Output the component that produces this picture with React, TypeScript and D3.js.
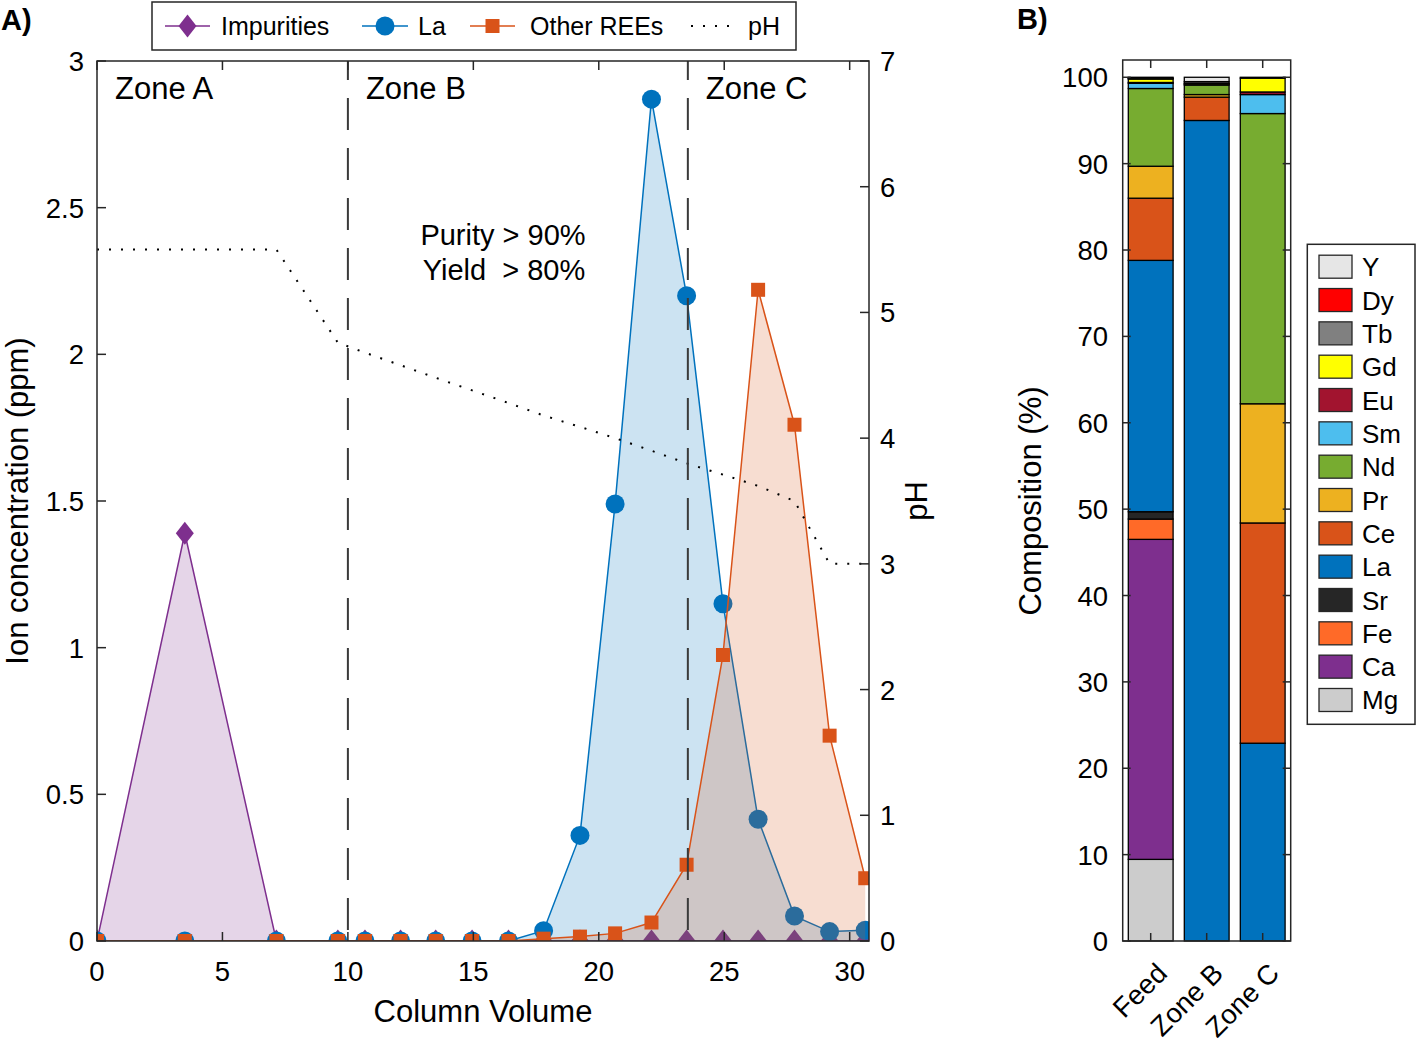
import { useEffect, useRef } from 'react'
import * as d3 from 'd3'

// ---- Panel A: elution profile ----
const columnVolume = [0, 3.5, 7.15, 9.6, 10.68, 12.1, 13.5, 14.95, 16.4, 17.8, 19.25, 20.65, 22.1, 23.5, 24.95, 26.35, 27.8, 29.2, 30.62]
const impurities = [0, 1.39, 0, 0, 0, 0, 0, 0, 0, 0, 0, 0, 0, 0, 0, 0, 0, 0, 0]
const lanthanum = [0, 0, 0, 0, 0, 0, 0, 0, 0, 0.035, 0.36, 1.49, 2.87, 2.2, 1.15, 0.415, 0.085, 0.032, 0.037]
const otherREEs = [0, 0, 0, 0, 0, 0, 0, 0, 0, 0.008, 0.015, 0.026, 0.063, 0.26, 0.975, 2.22, 1.76, 0.7, 0.214]
const phValues = [5.5, 5.5, 5.5, 4.76, 4.68, 4.58, 4.48, 4.38, 4.28, 4.18, 4.09, 4.0, 3.9, 3.8, 3.71, 3.62, 3.5, 3.0, 3.0]
const zoneStarts = [0, 10, 23.55]
const zoneNames = ['Zone A', 'Zone B', 'Zone C']
const concTicks = [0, 0.5, 1, 1.5, 2, 2.5, 3]
const phTicks = [0, 1, 2, 3, 4, 5, 6, 7]
const cvTicks = [0, 5, 10, 15, 20, 25, 30]

// ---- Panel B: composition ----
const samples = ['Feed', 'Zone B', 'Zone C']
const elements = ['Mg', 'Ca', 'Fe', 'Sr', 'La', 'Ce', 'Pr', 'Nd', 'Sm', 'Eu', 'Gd', 'Tb', 'Dy', 'Y']
const feedPct = [9.45, 37.05, 2.35, 0.85, 29.1, 7.2, 3.7, 9.0, 0.6, 0.1, 0.4, 0.05, 0.05, 0.1]
const zoneBPct = [0, 0, 0, 0, 95.0, 2.7, 0.3, 1.1, 0.1, 0, 0.1, 0.2, 0, 0.5]
const zoneCPct = [0, 0, 0, 0, 22.9, 25.5, 13.8, 33.6, 2.2, 0.3, 1.6, 0.1, 0, 0]
const elementColors = ['#cccccc', '#7e2f8e', '#ff6a28', '#262626', '#0072bd', '#d95319', '#edb120', '#77ac30', '#4dbeee', '#a2142f', '#ffff00', '#808080', '#ff0000', '#e6e6e6']
const pctTicks = [0, 10, 20, 30, 40, 50, 60, 70, 80, 90, 100]

type Sel = d3.Selection<SVGGElement, unknown, null, undefined>

function marker(g: Sel, kind: string, cx: number, cy: number, color: string) {
  if (kind === 'circle') {
    g.append('circle').attr('cx', cx).attr('cy', cy).attr('r', 9.5).attr('fill', color)
  } else if (kind === 'square') {
    g.append('rect').attr('x', cx - 7).attr('y', cy - 7).attr('width', 14).attr('height', 14).attr('fill', color)
  } else {
    g.append('path').attr('d', `M${cx},${cy - 11.5}L${cx + 9},${cy}L${cx},${cy + 11.5}L${cx - 9},${cy}Z`).attr('fill', color)
  }
}

export default function App() {
  const svgRef = useRef<SVGSVGElement>(null)

  useEffect(() => {
    if (!svgRef.current) return
    const svg = d3.select(svgRef.current)
    svg.selectAll('*').remove()

    const font = "'Liberation Sans', Arial, Helvetica, sans-serif"
    const ink = '#262626'
    const tickFs = 27.5

    svg.append('rect').attr('width', 1418).attr('height', 1042).attr('fill', '#fff')

    // ================= Panel A =================
    const x = d3.scaleLinear().domain([0, 30.77]).range([97, 869])
    const y = d3.scaleLinear().domain([0, 3]).range([941, 61])
    const yPH = d3.scaleLinear().domain([0, 7]).range([941, 61])
    const [xl, xr] = x.range()
    const [yb, yt] = y.range()

    // everything inside the axes is clipped to the axes box
    svg.append('defs').append('clipPath').attr('id', 'clip-a')
      .append('rect').attr('x', xl).attr('y', yt).attr('width', xr - xl).attr('height', yb - yt)

    const gA = svg.append('g') as unknown as Sel
    const plot = gA.append('g').attr('clip-path', 'url(#clip-a)') as unknown as Sel

    const series = [
      { name: 'Impurities', values: impurities, color: '#7e2f8e', kind: 'diamond' },
      { name: 'La', values: lanthanum, color: '#0072bd', kind: 'circle' },
      { name: 'Other REEs', values: otherREEs, color: '#d95319', kind: 'square' },
    ]

    const area = d3.area<number>()
      .x((_d, i) => x(columnVolume[i]))
      .y0(y(0))
      .y1(d => y(d))
    const line = d3.line<number>()
      .x((_d, i) => x(columnVolume[i]))
      .y(d => y(d))

    series.forEach(s => {
      plot.append('path').datum(s.values).attr('d', area)
        .attr('fill', s.color).attr('fill-opacity', 0.2)
      plot.append('path').datum(s.values).attr('d', line)
        .attr('fill', 'none').attr('stroke', s.color).attr('stroke-width', 1.5)
      s.values.forEach((v, i) => marker(plot, s.kind, x(columnVolume[i]), y(v), s.color))
    })

    // pH (right axis)
    const phLine = d3.line<number>()
      .x((_d, i) => x(columnVolume[i]))
      .y(d => yPH(d))
    plot.append('path').datum(phValues).attr('d', phLine)
      .attr('fill', 'none').attr('stroke', '#000').attr('stroke-width', 2)
      .attr('stroke-dasharray', '2 10')

    // zone boundaries
    zoneStarts.slice(1).forEach(z => {
      gA.append('line')
        .attr('x1', x(z)).attr('x2', x(z)).attr('y1', y(3)).attr('y2', y(0))
        .attr('stroke', '#3a3a3a').attr('stroke-width', 2)
        .attr('stroke-dasharray', '32 18').attr('stroke-dashoffset', 13)
    })

    // zone labels
    zoneNames.forEach((name, i) => {
      gA.append('text')
        .attr('x', x(zoneStarts[i]) + 18).attr('y', 99)
        .attr('font-family', font).attr('font-size', 31).attr('fill', '#000')
        .text(name)
    })

    // purity / yield annotation
    const ann = gA.append('text')
      .attr('font-family', font).attr('font-size', 29).attr('fill', '#000')
      .attr('text-anchor', 'middle').style('white-space', 'pre')
    ann.append('tspan').attr('x', 503).attr('y', 245).text('Purity > 90%')
    ann.append('tspan').attr('x', 504).attr('y', 280).text('Yield  > 80%')

    // axes box
    gA.append('rect').attr('x', xl).attr('y', yt).attr('width', xr - xl).attr('height', yb - yt)
      .attr('fill', 'none').attr('stroke', ink).attr('stroke-width', 1.5)

    cvTicks.forEach(t => {
      gA.append('line').attr('x1', x(t)).attr('x2', x(t)).attr('y1', yb).attr('y2', yb - 9)
        .attr('stroke', ink).attr('stroke-width', 1.5)
      gA.append('line').attr('x1', x(t)).attr('x2', x(t)).attr('y1', yt).attr('y2', yt + 9)
        .attr('stroke', ink).attr('stroke-width', 1.5)
      gA.append('text').attr('x', x(t)).attr('y', 981)
        .attr('text-anchor', 'middle').attr('font-family', font).attr('font-size', tickFs)
        .text(String(t))
    })
    concTicks.forEach(t => {
      gA.append('line').attr('x1', xl).attr('x2', xl + 9).attr('y1', y(t)).attr('y2', y(t))
        .attr('stroke', ink).attr('stroke-width', 1.5)
      gA.append('text').attr('x', 84).attr('y', y(t) + 10)
        .attr('text-anchor', 'end').attr('font-family', font).attr('font-size', tickFs)
        .text(String(t))
    })
    phTicks.forEach(t => {
      gA.append('line').attr('x1', xr).attr('x2', xr - 9).attr('y1', yPH(t)).attr('y2', yPH(t))
        .attr('stroke', ink).attr('stroke-width', 1.5)
      gA.append('text').attr('x', 880).attr('y', yPH(t) + 10)
        .attr('text-anchor', 'start').attr('font-family', font).attr('font-size', tickFs)
        .text(String(t))
    })

    gA.append('text').attr('x', 483).attr('y', 1022)
      .attr('text-anchor', 'middle').attr('font-family', font).attr('font-size', 31)
      .text('Column Volume')
    gA.append('text').attr('transform', 'translate(28,501) rotate(-90)')
      .attr('text-anchor', 'middle').attr('font-family', font).attr('font-size', 31)
      .text('Ion concentration (ppm)')
    gA.append('text').attr('transform', 'translate(927,501) rotate(-90)')
      .attr('text-anchor', 'middle').attr('font-family', font).attr('font-size', 31)
      .text('pH')

    // legend (top)
    const leg = gA.append('g') as unknown as Sel
    leg.append('rect').attr('x', 152).attr('y', 2).attr('width', 644).attr('height', 48)
      .attr('fill', '#fff').attr('stroke', ink).attr('stroke-width', 1.5)
    const legItems = [
      { x0: 165, x1: 210, tx: 221 },
      { x0: 362, x1: 408, tx: 418 },
      { x0: 470, x1: 515, tx: 530 },
    ]
    series.forEach((s, i) => {
      const it = legItems[i]
      leg.append('line').attr('x1', it.x0).attr('x2', it.x1).attr('y1', 26).attr('y2', 26)
        .attr('stroke', s.color).attr('stroke-width', 1.5)
      marker(leg, s.kind, (it.x0 + it.x1) / 2, 26, s.color)
      leg.append('text').attr('x', it.tx).attr('y', 35)
        .attr('font-family', font).attr('font-size', 25).text(s.name)
    })
    leg.append('line').attr('x1', 691).attr('x2', 736).attr('y1', 26).attr('y2', 26)
      .attr('stroke', '#000').attr('stroke-width', 2).attr('stroke-dasharray', '2 10')
    leg.append('text').attr('x', 748).attr('y', 35)
      .attr('font-family', font).attr('font-size', 25).text('pH')

    svg.append('text').attr('x', 1).attr('y', 30)
      .attr('font-family', font).attr('font-size', 29).attr('font-weight', 'bold').text('A)')

    // ================= Panel B =================
    const gB = svg.append('g')
    const xB = d3.scaleBand<string>().domain(samples).range([1122.7, 1290.7])
      .paddingInner(0.2).paddingOuter(0.1)
    const yB = d3.scaleLinear().domain([0, 102]).range([941, 60])

    const pctBySample = [feedPct, zoneBPct, zoneCPct]
    const table = samples.map((s, si) => {
      const row: Record<string, number | string> = { sample: s }
      elements.forEach((el, ei) => { row[el] = pctBySample[si][ei] })
      return row
    })
    const stacked = d3.stack<Record<string, number | string>>()
      .keys(elements)
      .value((d, key) => d[key] as number)(table)

    stacked.forEach((layer, li) => {
      layer.forEach(seg => {
        const h = yB(seg[0]) - yB(seg[1])
        if (h <= 0) return
        gB.append('rect')
          .attr('x', xB(seg.data.sample as string)!)
          .attr('y', yB(seg[1]))
          .attr('width', xB.bandwidth())
          .attr('height', h)
          .attr('fill', elementColors[li])
          .attr('stroke', '#000').attr('stroke-width', 1.3)
      })
    })

    const [bxl, bxr] = xB.range()
    const [byb, byt] = yB.range()
    gB.append('rect').attr('x', bxl).attr('y', byt).attr('width', bxr - bxl).attr('height', byb - byt)
      .attr('fill', 'none').attr('stroke', ink).attr('stroke-width', 1.5)
    pctTicks.forEach(t => {
      gB.append('line').attr('x1', bxl).attr('x2', bxl + 8).attr('y1', yB(t)).attr('y2', yB(t))
        .attr('stroke', ink).attr('stroke-width', 1.5)
      gB.append('line').attr('x1', bxr).attr('x2', bxr - 8).attr('y1', yB(t)).attr('y2', yB(t))
        .attr('stroke', ink).attr('stroke-width', 1.5)
      gB.append('text').attr('x', 1108).attr('y', yB(t) + 10)
        .attr('text-anchor', 'end').attr('font-family', font).attr('font-size', tickFs)
        .text(String(t))
    })
    samples.forEach(s => {
      const cx = xB(s)! + xB.bandwidth() / 2
      gB.append('line').attr('x1', cx).attr('x2', cx).attr('y1', byb).attr('y2', byb - 8)
        .attr('stroke', ink).attr('stroke-width', 1.5)
      gB.append('line').attr('x1', cx).attr('x2', cx).attr('y1', byt).attr('y2', byt + 8)
        .attr('stroke', ink).attr('stroke-width', 1.5)
      gB.append('text').attr('transform', `translate(${cx + 18},${975}) rotate(-45)`)
        .attr('text-anchor', 'end').attr('font-family', font).attr('font-size', tickFs)
        .text(s)
    })
    gB.append('text').attr('transform', 'translate(1041,501) rotate(-90)')
      .attr('text-anchor', 'middle').attr('font-family', font).attr('font-size', 31)
      .text('Composition (%)')

    // legend (right)
    const legB = gB.append('g')
    legB.append('rect').attr('x', 1307.3).attr('y', 244.3).attr('width', 107.7).attr('height', 480)
      .attr('fill', '#fff').attr('stroke', ink).attr('stroke-width', 1.5)
    const legOrder = elements.map((_e, i) => i).reverse()
    legOrder.forEach((ei, row) => {
      const cy = 266.7 + row * 33.33
      legB.append('rect').attr('x', 1319).attr('y', cy - 11.5).attr('width', 33).attr('height', 23)
        .attr('fill', elementColors[ei]).attr('stroke', ink).attr('stroke-width', 1.3)
      legB.append('text').attr('x', 1362).attr('y', cy + 9.5)
        .attr('font-family', font).attr('font-size', 26).text(elements[ei])
    })

    svg.append('text').attr('x', 1017).attr('y', 29)
      .attr('font-family', font).attr('font-size', 29).attr('font-weight', 'bold').text('B)')
  }, [])

  return (
    <svg
      ref={svgRef}
      width={1418}
      height={1042}
      style={{ position: 'absolute', left: 0, top: 0 }}
    />
  )
}
